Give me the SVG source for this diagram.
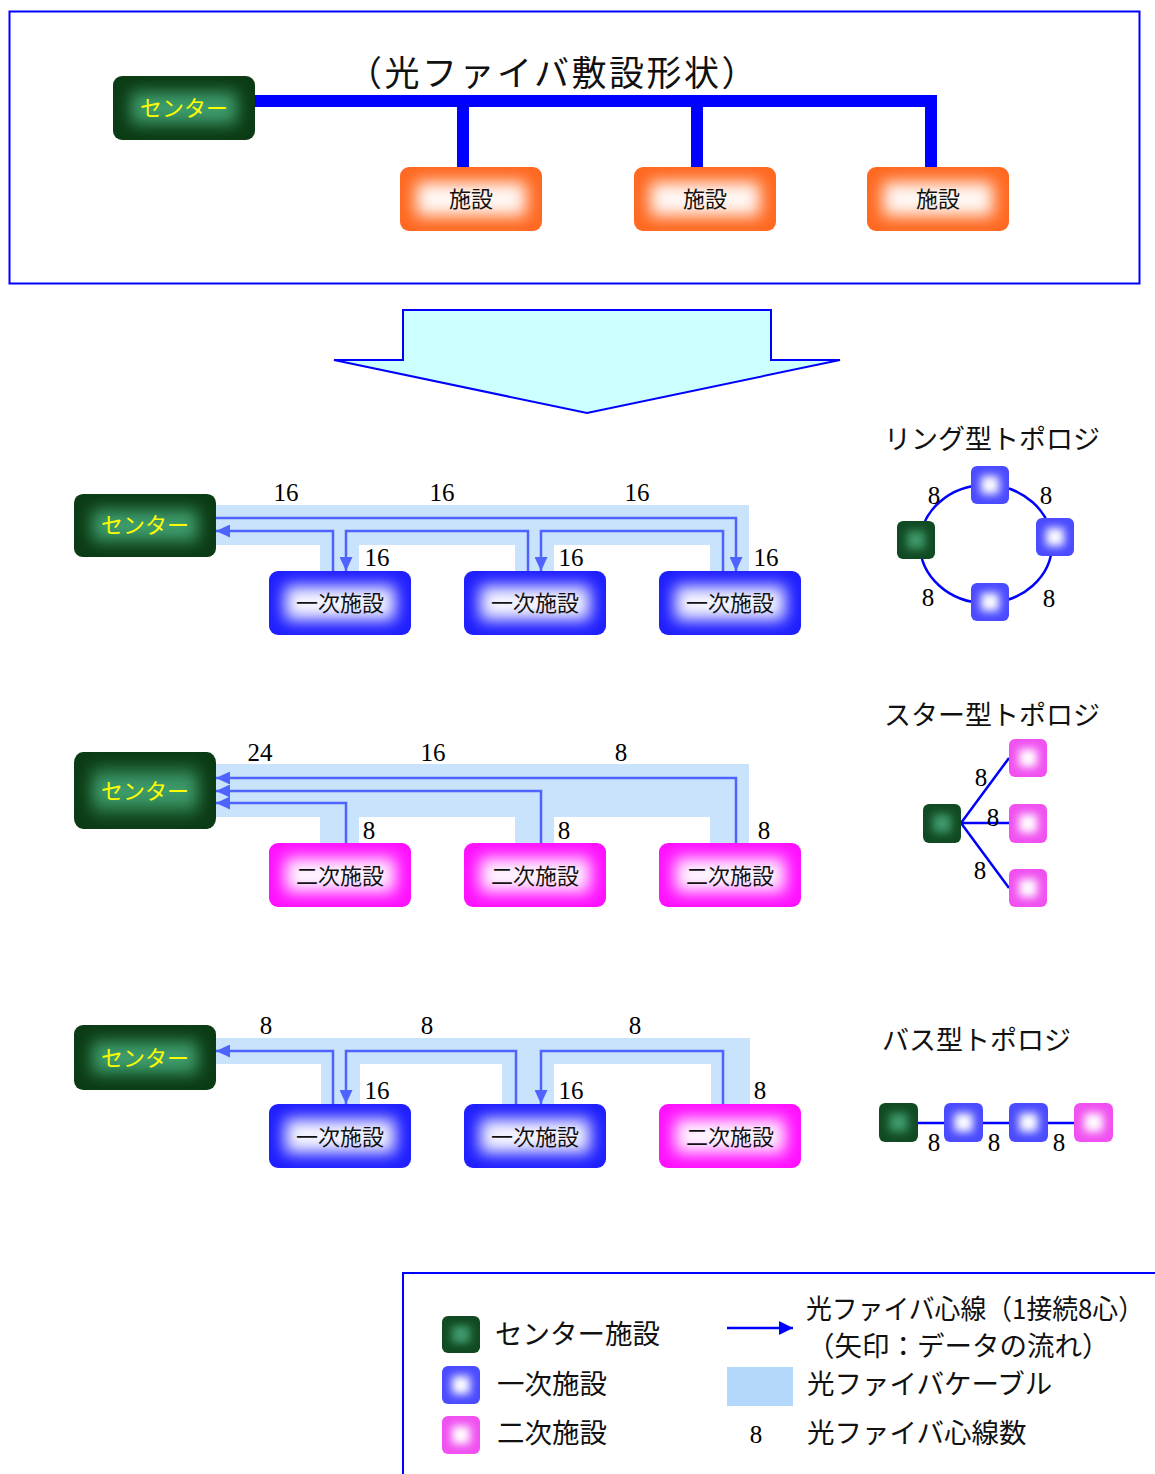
<svg xmlns="http://www.w3.org/2000/svg" xmlns:xlink="http://www.w3.org/1999/xlink" width="1155" height="1474" viewBox="0 0 1155 1474">
<style>
.jp{font-family:"Noto Sans CJK JP","Noto Sans",sans-serif;}
.num{font-family:"Liberation Serif",serif;font-size:25px;fill:#000;text-anchor:middle;}
.nt{font-family:"Noto Sans CJK JP",sans-serif;font-size:22px;fill:#111;text-anchor:middle;}
.ct{font-family:"Noto Sans CJK JP",sans-serif;font-size:22px;fill:#ffff00;text-anchor:middle;}
.tt{font-family:"Noto Sans CJK JP",sans-serif;font-size:27px;fill:#111;}
.lg{font-family:"Noto Sans CJK JP",sans-serif;font-size:27.5px;fill:#111;}
.band{fill:#c9e3fc;}
.data{fill:none;stroke:#4f63ff;stroke-width:2.5;}
.topo{fill:none;stroke:#0000ff;stroke-width:2.5;}
</style>
<defs>
<filter id="blurL" x="-60%" y="-100%" width="220%" height="300%"><feGaussianBlur stdDeviation="8"/></filter>
<filter id="blurS" x="-100%" y="-100%" width="300%" height="300%"><feGaussianBlur stdDeviation="4"/></filter>
<marker id="ah" markerUnits="userSpaceOnUse" markerWidth="14" markerHeight="13" refX="14" refY="6.5" orient="auto"><path d="M0,0 L14,6.5 L0,13 z" fill="#4f63ff"/></marker>
<marker id="ahL" markerUnits="userSpaceOnUse" markerWidth="14" markerHeight="14" refX="14" refY="7" orient="auto"><path d="M0,0 L14,7 L0,14 z" fill="#0000ff"/></marker>
<symbol id="bGreen" viewBox="0 0 142 64" preserveAspectRatio="none"><rect width="142" height="64" rx="9" fill="#0b3b14"/><rect x="18" y="16" width="106" height="32" fill="#3c9c6c" filter="url(#blurL)"/></symbol>
<symbol id="bOrange" viewBox="0 0 142 64" preserveAspectRatio="none"><rect width="142" height="64" rx="9" fill="#ff6820"/><rect x="16" y="15" width="110" height="34" fill="#fff8f4" filter="url(#blurL)"/></symbol>
<symbol id="bBlue" viewBox="0 0 142 64" preserveAspectRatio="none"><rect width="142" height="64" rx="9" fill="#1e1eff"/><rect x="16" y="15" width="110" height="34" fill="#f6f6ff" filter="url(#blurL)"/></symbol>
<symbol id="bPink" viewBox="0 0 142 64" preserveAspectRatio="none"><rect width="142" height="64" rx="9" fill="#ff10ff"/><rect x="16" y="15" width="110" height="34" fill="#fff6ff" filter="url(#blurL)"/></symbol>
<symbol id="sGreen" viewBox="0 0 38 38" preserveAspectRatio="none"><rect width="38" height="38" rx="6" fill="#114a22"/><rect x="10" y="10" width="18" height="18" fill="#3c9a6c" filter="url(#blurS)"/></symbol>
<symbol id="sBlue" viewBox="0 0 38 38" preserveAspectRatio="none"><rect width="38" height="38" rx="6" fill="#4a4aff"/><rect x="10" y="10" width="18" height="18" fill="#ffffff" filter="url(#blurS)"/></symbol>
<symbol id="sPink" viewBox="0 0 38 38" preserveAspectRatio="none"><rect width="38" height="38" rx="6" fill="#f050f0"/><rect x="10" y="10" width="18" height="18" fill="#ffffff" filter="url(#blurS)"/></symbol>
</defs>
<rect width="1155" height="1474" fill="#ffffff"/>

<!-- top section -->
<g id="top-frame"><rect x="9.5" y="11.5" width="1130" height="272" fill="none" stroke="#0000ff" stroke-width="2"/>
<text class="jp" x="553" y="86" font-size="35" letter-spacing="2.5" text-anchor="middle" fill="#111">（光ファイバ敷設形状）</text></g>
<g id="connectors-top"><path d="M254 101 H931 V168 M463 101 V168 M697 101 V168" fill="none" stroke="#0000ff" stroke-width="12"/></g>
<g id="top-center"><use href="#bGreen" x="113" y="76" width="142" height="64"/><text class="ct" x="184" y="116">センター</text></g>
<g id="top-fac1"><use href="#bOrange" x="400" y="167" width="142" height="64"/><text class="nt" x="471" y="207">施設</text></g>
<g id="top-fac2"><use href="#bOrange" x="634" y="167" width="142" height="64"/><text class="nt" x="705" y="207">施設</text></g>
<g id="top-fac3"><use href="#bOrange" x="867" y="167" width="142" height="64"/><text class="nt" x="938" y="207">施設</text></g>

<g id="big-arrow"><polygon points="403,310 771,310 771,360 840,360 587,413 334,360 403,360" fill="#ccffff" stroke="#0000ff" stroke-width="2"/></g>

<!-- ring section -->
<g id="connectors-ring">
<rect class="band" x="216" y="505" width="533" height="40"/>
<rect class="band" x="320" y="545" width="39" height="26"/>
<rect class="band" x="515" y="545" width="39" height="26"/>
<rect class="band" x="710" y="545" width="39" height="26"/>
<path class="data" d="M216 518 H736 V571" marker-end="url(#ah)"/>
<path class="data" d="M723 571 V531 H541 V571" marker-end="url(#ah)"/>
<path class="data" d="M528 571 V531 H346 V571" marker-end="url(#ah)"/>
<path class="data" d="M333 571 V531 H216" marker-end="url(#ah)"/>
<text class="num" x="286" y="501">16</text><text class="num" x="442" y="501">16</text><text class="num" x="637" y="501">16</text>
<text class="num" x="377" y="566">16</text><text class="num" x="571" y="566">16</text><text class="num" x="766" y="566">16</text>
</g>
<g id="ring-center"><use href="#bGreen" x="74" y="494" width="142" height="63"/><text class="ct" x="145" y="533">センター</text></g>
<g id="ring-p1"><use href="#bBlue" x="269" y="571" width="142" height="64"/><text class="nt" x="340" y="611">一次施設</text></g>
<g id="ring-p2"><use href="#bBlue" x="464" y="571" width="142" height="64"/><text class="nt" x="535" y="611">一次施設</text></g>
<g id="ring-p3"><use href="#bBlue" x="659" y="571" width="142" height="64"/><text class="nt" x="730" y="611">一次施設</text></g>

<!-- star section -->
<g id="connectors-star">
<rect class="band" x="216" y="764" width="533" height="53"/>
<rect class="band" x="320" y="817" width="39" height="26"/>
<rect class="band" x="515" y="817" width="39" height="26"/>
<rect class="band" x="710" y="817" width="39" height="26"/>
<path class="data" d="M736 843 V778 H216" marker-end="url(#ah)"/>
<path class="data" d="M541 843 V791 H216" marker-end="url(#ah)"/>
<path class="data" d="M346 843 V803 H216" marker-end="url(#ah)"/>
<text class="num" x="260" y="761">24</text><text class="num" x="433" y="761">16</text><text class="num" x="621" y="761">8</text>
<text class="num" x="369" y="839">8</text><text class="num" x="564" y="839">8</text><text class="num" x="764" y="839">8</text>
</g>
<g id="star-center"><use href="#bGreen" x="74" y="752" width="142" height="77"/><text class="ct" x="145" y="799">センター</text></g>
<g id="star-s1"><use href="#bPink" x="269" y="843" width="142" height="64"/><text class="nt" x="340" y="884">二次施設</text></g>
<g id="star-s2"><use href="#bPink" x="464" y="843" width="142" height="64"/><text class="nt" x="535" y="884">二次施設</text></g>
<g id="star-s3"><use href="#bPink" x="659" y="843" width="142" height="64"/><text class="nt" x="730" y="884">二次施設</text></g>

<!-- bus section -->
<g id="connectors-bus">
<rect class="band" x="216" y="1038" width="534" height="26"/>
<rect class="band" x="321" y="1064" width="39" height="40"/>
<rect class="band" x="502" y="1064" width="52" height="40"/>
<rect class="band" x="711" y="1064" width="39" height="40"/>
<path class="data" d="M723 1104 V1051 H541 V1104" marker-end="url(#ah)"/>
<path class="data" d="M516 1104 V1051 H346 V1104" marker-end="url(#ah)"/>
<path class="data" d="M333 1104 V1051 H216" marker-end="url(#ah)"/>
<text class="num" x="266" y="1034">8</text><text class="num" x="427" y="1034">8</text><text class="num" x="635" y="1034">8</text>
<text class="num" x="377" y="1099">16</text><text class="num" x="571" y="1099">16</text><text class="num" x="760" y="1099">8</text>
</g>
<g id="bus-center"><use href="#bGreen" x="74" y="1025" width="142" height="65"/><text class="ct" x="145" y="1066">センター</text></g>
<g id="bus-p1"><use href="#bBlue" x="269" y="1104" width="142" height="64"/><text class="nt" x="340" y="1145">一次施設</text></g>
<g id="bus-p2"><use href="#bBlue" x="464" y="1104" width="142" height="64"/><text class="nt" x="535" y="1145">一次施設</text></g>
<g id="bus-s1"><use href="#bPink" x="659" y="1104" width="142" height="64"/><text class="nt" x="730" y="1145">二次施設</text></g>

<!-- ring topology -->
<g id="ring-topology">
<text class="tt" x="884" y="449">リング型トポロジ</text>
<ellipse class="topo" cx="986" cy="544" rx="66" ry="59"/>
<use href="#sGreen" x="897" y="521" width="38" height="38"/>
<use href="#sBlue" x="971" y="466" width="38" height="38"/>
<use href="#sBlue" x="1036" y="518" width="38" height="38"/>
<use href="#sBlue" x="971" y="583" width="38" height="38"/>
<text class="num" x="934" y="504">8</text><text class="num" x="1046" y="504">8</text>
<text class="num" x="928" y="606">8</text><text class="num" x="1049" y="607">8</text>
</g>

<!-- star topology -->
<g id="star-topology">
<text class="tt" x="884" y="725">スター型トポロジ</text>
<path class="topo" d="M961 823 L1009 758 M961 823 L1009 823 M961 823 L1009 888"/>
<use href="#sGreen" x="923" y="804" width="38" height="39"/>
<use href="#sPink" x="1009" y="739" width="38" height="38"/>
<use href="#sPink" x="1009" y="804" width="38" height="39"/>
<use href="#sPink" x="1009" y="869" width="38" height="38"/>
<text class="num" x="981" y="786">8</text><text class="num" x="993" y="826">8</text><text class="num" x="980" y="879">8</text>
</g>

<!-- bus topology -->
<g id="bus-topology">
<text class="tt" x="882" y="1050">バス型トポロジ</text>
<path class="topo" d="M918 1123 H1074"/>
<use href="#sGreen" x="879" y="1103" width="39" height="39"/>
<use href="#sBlue" x="944" y="1103" width="39" height="39"/>
<use href="#sBlue" x="1009" y="1103" width="39" height="39"/>
<use href="#sPink" x="1074" y="1103" width="39" height="39"/>
<text class="num" x="934" y="1151">8</text><text class="num" x="994" y="1151">8</text><text class="num" x="1059" y="1151">8</text>
</g>

<!-- legend -->
<g id="legend">
<path d="M403 1474 V1273 H1155" fill="none" stroke="#0000ff" stroke-width="2"/>
<use href="#sGreen" x="442" y="1316" width="38" height="37"/>
<use href="#sBlue" x="442" y="1366" width="38" height="38"/>
<use href="#sPink" x="442" y="1416" width="38" height="38"/>
<text class="lg" x="495" y="1344">センター施設</text>
<text class="lg" x="497" y="1394">一次施設</text>
<text class="lg" x="497" y="1443">二次施設</text>
<path d="M727 1328 H793" fill="none" stroke="#0000ff" stroke-width="2.5" marker-end="url(#ahL)"/>
<text class="lg" x="806" y="1319" font-size="26" textLength="338" lengthAdjust="spacingAndGlyphs">光ファイバ心線（1接続8心）</text>
<text class="lg" x="807" y="1356" font-size="26.5">（矢印：データの流れ）</text>
<rect x="727" y="1367" width="66" height="39" fill="#b4d8fc"/>
<text class="lg" x="807" y="1394">光ファイバケーブル</text>
<text class="num" x="756" y="1443">8</text>
<text class="lg" x="807" y="1443">光ファイバ心線数</text>
</g>
</svg>
